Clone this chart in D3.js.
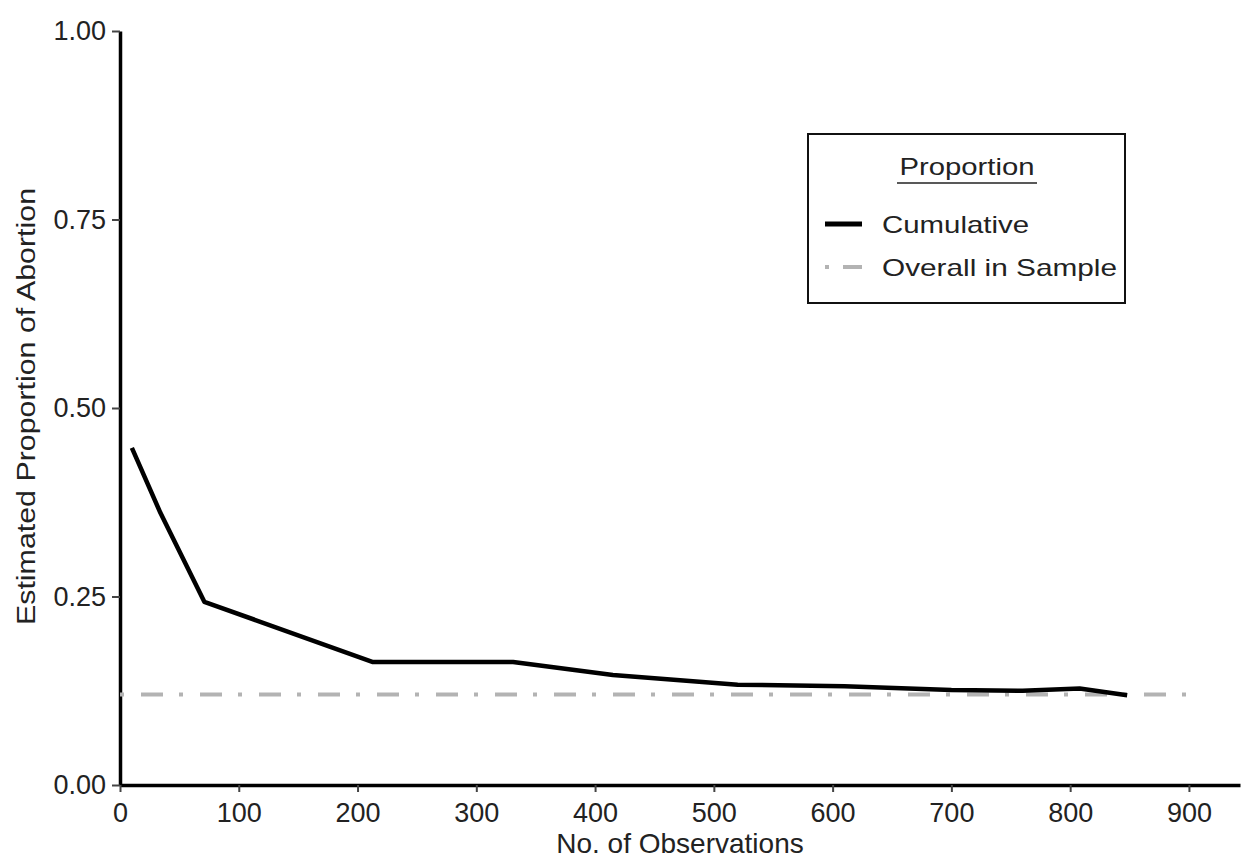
<!DOCTYPE html>
<html>
<head>
<meta charset="utf-8">
<script src="https://cdn.jsdelivr.net/npm/d3@7"></script>
<style>
  html, body { margin: 0; padding: 0; background: #fff; }
  svg { display: block; font-family: "Liberation Sans", Arial, sans-serif; }
</style>
</head>
<body>
<svg id="chart" width="1243" height="861"></svg>
<script>
// ---- data ----
const obsX = [10, 34, 71, 213, 331, 415, 520, 610, 700, 760, 808, 848];
const cumulative = [0.447, 0.361, 0.243, 0.163, 0.163, 0.146, 0.133, 0.131, 0.126, 0.125, 0.128, 0.119];
const overallValue = 0.12;
const overallRange = [0, 900];
const xTicks = [0, 100, 200, 300, 400, 500, 600, 700, 800, 900];
const yTicks = [0.00, 0.25, 0.50, 0.75, 1.00];
const xTitle = "No. of Observations";
const yTitle = "Estimated Proportion of  Abortion";
const legendTitle = "Proportion";
const legendLabels = ["Cumulative", "Overall in Sample"];

const svg = d3.select("#chart");
const x = d3.scaleLinear().domain([0, 943]).range([120, 1240]);
const y = d3.scaleLinear().domain([0, 1]).range([785, 31]);

// axes
const yAxis = svg.append("g").attr("transform", "translate(120,0)")
  .call(d3.axisLeft(y).tickValues(yTicks).tickFormat(d3.format(".2f")).tickSize(8).tickSizeOuter(0).tickPadding(6));
const xAxis = svg.append("g").attr("transform", "translate(0,785)")
  .call(d3.axisBottom(x).tickValues(xTicks).tickFormat(d3.format("d")).tickSize(7).tickSizeOuter(0).tickPadding(11));

[yAxis, xAxis].forEach(g => {
  g.select(".domain").attr("stroke", "#000").attr("stroke-width", 3.5);
  g.selectAll(".tick line").attr("stroke", "#444").attr("stroke-width", 2);
  g.selectAll(".tick text").attr("fill", "#222").style("font-size", "27px");
});

// overall line
svg.append("line")
  .attr("x1", x(overallRange[0])).attr("x2", x(overallRange[1]))
  .attr("y1", y(overallValue)).attr("y2", y(overallValue))
  .attr("stroke", "#b3b3b3").attr("stroke-width", 4)
  .attr("stroke-dasharray", "4,17,22,16");

// cumulative line
const pts = obsX.map((v, i) => [v, cumulative[i]]);
svg.append("path")
  .datum(pts)
  .attr("fill", "none").attr("stroke", "#000").attr("stroke-width", 4.5)
  .attr("stroke-linejoin", "round")
  .attr("d", d3.line().x(d => x(d[0])).y(d => y(d[1])));

// axis titles
svg.append("text")
  .attr("x", 680).attr("y", 853)
  .attr("text-anchor", "middle").attr("fill", "#222")
  .style("font-size", "28px").text(xTitle);
svg.append("text")
  .attr("transform", "translate(35,406.5) rotate(-90)")
  .attr("text-anchor", "middle").attr("fill", "#222")
  .style("font-size", "26px")
  .attr("textLength", 437).attr("lengthAdjust", "spacingAndGlyphs")
  .text(yTitle);

// legend
const lg = svg.append("g");
lg.append("rect").attr("x", 808).attr("y", 134).attr("width", 317).attr("height", 169)
  .attr("fill", "#fff").attr("stroke", "#111").attr("stroke-width", 2);
lg.append("text").attr("x", 967).attr("y", 175).attr("text-anchor", "middle")
  .attr("fill", "#222").style("font-size", "24px")
  .attr("textLength", 135).attr("lengthAdjust", "spacingAndGlyphs").text(legendTitle);
lg.append("line").attr("x1", 897).attr("x2", 1037).attr("y1", 183).attr("y2", 183)
  .attr("stroke", "#222").attr("stroke-width", 1.5);
lg.append("line").attr("x1", 825).attr("x2", 862).attr("y1", 224).attr("y2", 224)
  .attr("stroke", "#000").attr("stroke-width", 5);
lg.append("line").attr("x1", 825).attr("x2", 862).attr("y1", 267).attr("y2", 267)
  .attr("stroke", "#b3b3b3").attr("stroke-width", 4).attr("stroke-dasharray", "4,14,22,16");
lg.append("text").attr("x", 882).attr("y", 233).attr("fill", "#222").style("font-size", "24px")
  .attr("textLength", 147).attr("lengthAdjust", "spacingAndGlyphs").text(legendLabels[0]);
lg.append("text").attr("x", 882).attr("y", 276).attr("fill", "#222").style("font-size", "24px")
  .attr("textLength", 235).attr("lengthAdjust", "spacingAndGlyphs").text(legendLabels[1]);
</script>
</body>
</html>
